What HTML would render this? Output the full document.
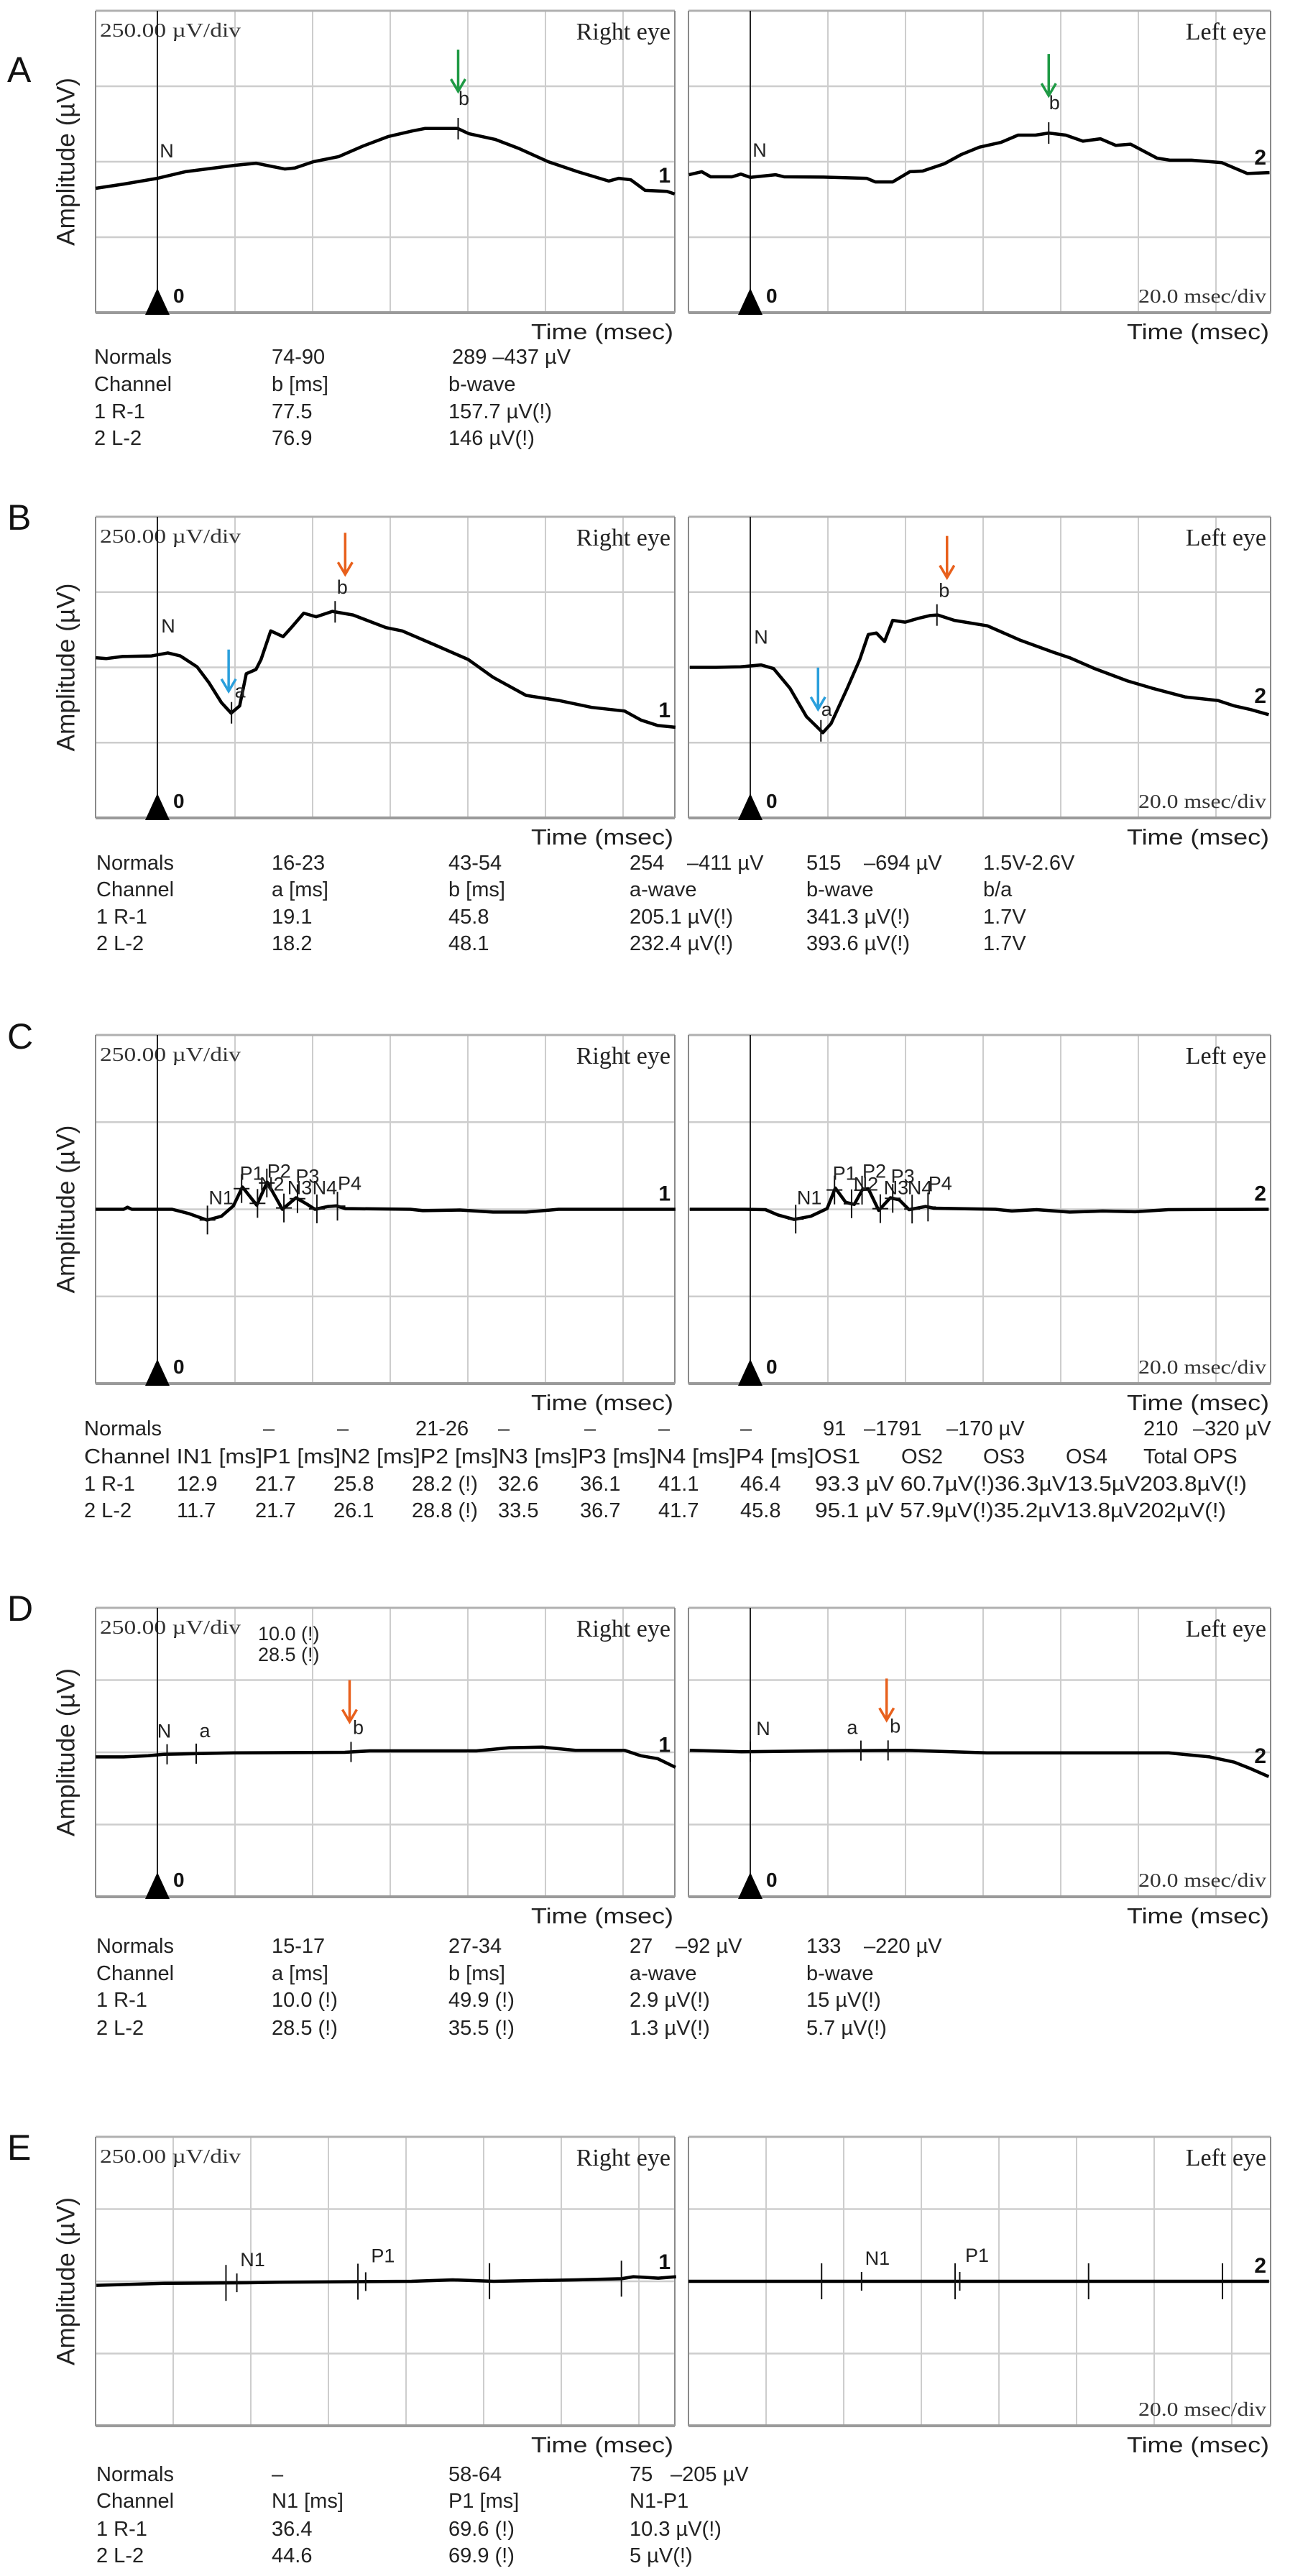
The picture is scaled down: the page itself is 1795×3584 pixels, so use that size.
<!DOCTYPE html>
<html><head><meta charset="utf-8"><title>ERG recordings</title>
<style>
html,body{margin:0;padding:0;background:#fff;}
svg{display:block;}
.tb{font-family:"Liberation Sans",Arial,sans-serif;font-size:29px;fill:#222;}
</style></head>
<body>
<svg id="fig" xmlns="http://www.w3.org/2000/svg" width="1795" height="3584" viewBox="0 0 1795 3584">
<rect x="0" y="0" width="1795" height="3584" fill="#fff"/>
<g id="tables">
<!-- A -->
<g class="tb">
<text x="131" y="506">Normals</text><text x="378" y="506">74-90</text><text x="629" y="506">289  –437 µV</text>
<text x="131" y="544">Channel</text><text x="378" y="544">b [ms]</text><text x="624" y="544">b-wave</text>
<text x="131" y="582">1 R-1</text><text x="378" y="582">77.5</text><text x="624" y="582">157.7 µV(!)</text>
<text x="131" y="619">2 L-2</text><text x="378" y="619">76.9</text><text x="624" y="619">146 µV(!)</text>
</g>
<!-- B -->
<g class="tb">
<text x="134" y="1210">Normals</text><text x="378" y="1210">16-23</text><text x="624" y="1210">43-54</text><text x="876" y="1210">254</text><text x="956" y="1210">–411 µV</text><text x="1122" y="1210">515</text><text x="1202" y="1210">–694 µV</text><text x="1368" y="1210">1.5V-2.6V</text>
<text x="134" y="1247">Channel</text><text x="378" y="1247">a [ms]</text><text x="624" y="1247">b [ms]</text><text x="876" y="1247">a-wave</text><text x="1122" y="1247">b-wave</text><text x="1368" y="1247">b/a</text>
<text x="134" y="1285">1 R-1</text><text x="378" y="1285">19.1</text><text x="624" y="1285">45.8</text><text x="876" y="1285">205.1 µV(!)</text><text x="1122" y="1285">341.3 µV(!)</text><text x="1368" y="1285">1.7V</text>
<text x="134" y="1322">2 L-2</text><text x="378" y="1322">18.2</text><text x="624" y="1322">48.1</text><text x="876" y="1322">232.4 µV(!)</text><text x="1122" y="1322">393.6 µV(!)</text><text x="1368" y="1322">1.7V</text>
</g>
<!-- C -->
<g class="tb">
<text x="117" y="1997">Normals</text><text x="366" y="1997">–</text><text x="469" y="1997">–</text><text x="578" y="1997">21-26</text><text x="693" y="1997">–</text><text x="813" y="1997">–</text><text x="916" y="1997">–</text><text x="1030" y="1997">–</text><text x="1145" y="1997">91</text><text x="1202" y="1997">–1791</text><text x="1317" y="1997">–170 µV</text><text x="1591" y="1997">210</text><text x="1660" y="1997">–320 µV</text>
<text x="117" y="2036" textLength="1080" lengthAdjust="spacingAndGlyphs">Channel IN1 [ms]P1  [ms]N2 [ms]P2  [ms]N3  [ms]P3  [ms]N4  [ms]P4  [ms]OS1</text><text x="1254" y="2036">OS2</text><text x="1368" y="2036">OS3</text><text x="1483" y="2036">OS4</text><text x="1591" y="2036">Total OPS</text>
<text x="117" y="2074">1 R-1</text><text x="246" y="2074">12.9</text><text x="355" y="2074">21.7</text><text x="464" y="2074">25.8</text><text x="573" y="2074">28.2 (!)</text><text x="693" y="2074">32.6</text><text x="807" y="2074">36.1</text><text x="916" y="2074">41.1</text><text x="1030" y="2074">46.4</text><text x="1134" y="2074" textLength="601" lengthAdjust="spacingAndGlyphs">93.3 µV 60.7µV(!)36.3µV13.5µV203.8µV(!)</text>
<text x="117" y="2111">2 L-2</text><text x="246" y="2111">11.7</text><text x="355" y="2111">21.7</text><text x="464" y="2111">26.1</text><text x="573" y="2111">28.8 (!)</text><text x="693" y="2111">33.5</text><text x="807" y="2111">36.7</text><text x="916" y="2111">41.7</text><text x="1030" y="2111">45.8</text><text x="1134" y="2111" textLength="572" lengthAdjust="spacingAndGlyphs">95.1 µV 57.9µV(!)35.2µV13.8µV202µV(!)</text>
</g>
<!-- D -->
<g class="tb">
<text x="134" y="2717">Normals</text><text x="378" y="2717">15-17</text><text x="624" y="2717">27-34</text><text x="876" y="2717">27</text><text x="940" y="2717">–92 µV</text><text x="1122" y="2717">133</text><text x="1202" y="2717">–220 µV</text>
<text x="134" y="2755">Channel</text><text x="378" y="2755">a [ms]</text><text x="624" y="2755">b [ms]</text><text x="876" y="2755">a-wave</text><text x="1122" y="2755">b-wave</text>
<text x="134" y="2792">1 R-1</text><text x="378" y="2792">10.0 (!)</text><text x="624" y="2792">49.9 (!)</text><text x="876" y="2792">2.9 µV(!)</text><text x="1122" y="2792">15 µV(!)</text>
<text x="134" y="2831">2 L-2</text><text x="378" y="2831">28.5 (!)</text><text x="624" y="2831">35.5 (!)</text><text x="876" y="2831">1.3 µV(!)</text><text x="1122" y="2831">5.7 µV(!)</text>
</g>
<!-- E -->
<g class="tb">
<text x="134" y="3452">Normals</text><text x="378" y="3452">–</text><text x="624" y="3452">58-64</text><text x="876" y="3452">75</text><text x="933" y="3452">–205 µV</text>
<text x="134" y="3489">Channel</text><text x="378" y="3489">N1 [ms]</text><text x="624" y="3489">P1 [ms]</text><text x="876" y="3489">N1-P1</text>
<text x="134" y="3528">1 R-1</text><text x="378" y="3528">36.4</text><text x="624" y="3528">69.6 (!)</text><text x="876" y="3528">10.3 µV(!)</text>
<text x="134" y="3565">2 L-2</text><text x="378" y="3565">44.6</text><text x="624" y="3565">69.9 (!)</text><text x="876" y="3565">5 µV(!)</text>
</g>
</g>
</svg>
<script>
// ---------- data (time in ms, amplitude in µV) ----------
const timeTicksTrig=[0,20,40,60,80,100,120];
const timeTicksE=[20,40,60,80,100,120,140];
const ampTicks=[-250,0,250];

const aRightT=[-15.9,-8.7,0,7.2,20,25.4,32.8,35.4,40.2,46.7,53,59.4,65.7,68.9,77.4,80.2,87,93.3,100.7,108.3,116.3,118.9,122,125.7,131.3,133.3];
const aRightV=[-88,-74,-55,-33,-12,-5,-24,-21,0,17,52,83,102,110,110,93,74,43,0,-33,-64,-55,-60,-95,-98,-107];
const aLeftT=[-15.8,-12.5,-10.2,-4.7,-2.4,0,6.5,8.7,18.8,30,32.2,36.7,41.1,44.4,50,54.4,59,64.6,69,73.5,76.9,81.3,85.7,90.2,94.2,98,104.8,108.1,113.7,121.5,128.1,133.8];
const aLeftV=[-43,-33,-50,-50,-41,-52,-43,-50,-51,-55,-67,-67,-33,-31,-7,24,48,64,88,88,95,88,68,76,54,58,12,5,5,-3,-39,-36];
const aRightMarks=[77.5];
const aLeftMarks=[76.9];

const bRightT=[-15.9,-13.2,-9,-1.5,2.7,5.9,10.2,13.3,16.5,19,21.2,22.9,25.4,26.7,29.2,32.4,34.5,37.7,40.9,45.1,50.4,58.9,63.1,71.6,80.1,86.5,95,103.4,111.9,120.4,124.6,128.9,133.5];
const bRightV=[32,29,36,38,48,38,2,-51,-117,-152,-128,-21,-7,26,121,102,132,180,168,186,174,132,121,74,26,-33,-93,-110,-133,-145,-175,-193,-199];
const bLeftT=[-15.6,-8.8,-2.5,2.8,6,10.2,14.5,18.7,20.8,25,28.2,30.4,32.5,34.6,36.7,39.9,43.1,46.3,48.3,52.6,61.1,69.6,78.1,82.3,88.7,97.2,103.5,112,120.5,124.7,128.9,133.6];
const bLeftV=[0,0,2,8,-4,-69,-164,-217,-187,-69,26,109,114,86,156,150,162,172,174,156,138,90,50,32,-4,-45,-69,-98,-110,-128,-140,-157];
const bRightMarks=[19.1,45.8];
const bLeftMarks=[18.2,48.1];

const cRightT=[-15.9,-8.7,-7.7,-6.6,3.8,8,12.8,16.5,19.6,21.9,25.6,28.3,32.2,35.7,38.5,40.6,44,46.1,48.4,65.2,68.4,77.9,86.5,95,103.4,133.5];
const cRightV=[0,0,6,0,0,-12,-31,-20,10,64,12,78,0,33,15,0,8,10,2,0,-4,-2,-8,-8,0,0];
const cLeftT=[-15.6,-1.4,3.9,7.1,11.3,15.6,19.8,21.9,24.6,26.8,28.9,30.4,33.1,36.1,38.4,40.9,45.2,47.3,63.2,67.4,73.8,82.3,90.8,99.2,107.7,133.6];
const cLeftV=[0,0,-1,-16,-29,-20,2,61,20,14,57,59,-3,33,27,-1,8,3,0,-5,-1,-8,-5,-7,-1,0];
const cLabels=['N1','P1','N2','P2','N3','P3','N4','P4'];
const cRightMarks=[12.9,21.7,25.8,28.2,32.6,36.1,41.1,46.4];
const cLeftMarks=[11.7,21.7,26.1,28.8,33.5,36.7,41.7,45.8];

const dRightT=[-15.9,-8.7,-2.4,1.7,19.7,48.3,54.7,82.2,90.7,99.2,107.7,120.4,124.6,128.9,133.5];
const dRightV=[-16,-16,-12,-7,-2,0,5,5,16,18,7,7,-12,-22,-52];
const dLeftT=[-15.6,-2.3,18.7,40,61,82.3,107.8,118.4,124.7,129,133.6];
const dLeftV=[7,2,5,7,-2,-2,-2,-16,-34,-57,-84];
const dRightMarks=[2.5,10.0,49.9];
const dLeftMarks=[0,28.5,35.5];

const eRightT=[0.2,17.8,39,47.5,81.4,92,102.6,123.8,135.5,138.6,145,149.6];
const eRightV=[-14,-7,-5,-3,0,5,0,5,9,16,11,16];
const eLeftT=[0,149.6];
const eLeftV=[0,0];
const eRightMarks=[36.4,69.6];
const eLeftMarks=[44.6,69.9];
const eRightCursors=[33.6,67.6,101.5,135.5];
const eLeftCursors=[34.3,68.7,103.1,137.6];

// ---------- layout ----------
const NS='http://www.w3.org/2000/svg';
const svg=document.getElementById('fig');
function mk(tag,attrs,parent){const e=document.createElementNS(NS,tag);for(const k in attrs)e.setAttribute(k,attrs[k]);(parent||svg).appendChild(e);return e;}
function txt(str,attrs,parent){const e=mk('text',attrs,parent);e.textContent=str;return e;}
const SERIF='"Liberation Serif","Times New Roman",serif';
const SANS='"Liberation Sans",Arial,sans-serif';
const PXMS=5.4;

const eyes={right:{x0:133,w:806,name:'Right eye',num:'1'},left:{x0:958,w:810,name:'Left eye',num:'2'}};
const panels=[
 {id:'a',top:15,h:420,trig:true,lblY:114},
 {id:'b',top:719,h:419,trig:true,lblY:737},
 {id:'c',top:1440,h:485,trig:true,lblY:1459},
 {id:'d',top:2237,h:402,trig:true,lblY:2255},
 {id:'e',top:2973,h:402,trig:false,lblY:3005}
];
function xS(p,eye,ms){return (p.trig?eye.x0+86:eye.x0)+ms*PXMS;}
function yS(p,uv){return p.top+p.h/2-uv/1000*p.h;}
function interp(T,V,t){if(t<=T[0])return V[0];for(let i=1;i<T.length;i++){if(t<=T[i]){const f=(t-T[i-1])/(T[i]-T[i-1]);return V[i-1]+f*(V[i]-V[i-1]);}}return V[V.length-1];}

function arrow(g,x,yTip,color,name){
  const a=mk('g',{},g);
  
  
  mk('line',{x1:x,y1:yTip-58,x2:x,y2:yTip,stroke:color,'stroke-width':3.5},a);
  mk('polyline',{points:(x-10)+','+(yTip-17)+' '+x+','+yTip+' '+(x+10)+','+(yTip-17),fill:'none',stroke:color,'stroke-width':3.5},a);
}

function drawPanel(p,side,T,V){
  const eye=eyes[side];
  const g=mk('g',{});
  
  
  const L=eye.x0,R=eye.x0+eye.w,Tp=p.top,B=p.top+p.h;
  mk('rect',{x:L,y:Tp,width:eye.w,height:p.h,fill:'#fff'},g);
  const ticks=p.trig?timeTicksTrig:timeTicksE;
  ticks.forEach(t=>{const x=xS(p,eye,t);if(x<R-2){const l=mk('line',{x1:x,y1:Tp,x2:x,y2:B,stroke:'#cdcdcd','stroke-width':2},g);
    
    }});
  ampTicks.forEach(a=>{const y=yS(p,a);const l=mk('line',{x1:L,y1:y,x2:R,y2:y,stroke:'#cdcdcd','stroke-width':2.5},g);
    
    });
  // frame
  mk('line',{x1:L,y1:Tp,x2:R,y2:Tp,stroke:'#b0b0b0','stroke-width':3},g);
  mk('line',{x1:L,y1:Tp,x2:L,y2:B,stroke:'#8a8a8a','stroke-width':2},g);
  mk('line',{x1:R,y1:Tp,x2:R,y2:B,stroke:'#8a8a8a','stroke-width':2},g);
  mk('line',{x1:L,y1:B,x2:R,y2:B,stroke:'#9a9a9a','stroke-width':4},g);
  // texts
  if(side==='right'){
    const s=txt('250.00  µV/div',{x:L+6,y:Tp+36,'font-family':SERIF,'font-size':27,fill:'#333','xml:space':'preserve',textLength:196,lengthAdjust:'spacingAndGlyphs'},g);
    
    
  } else {
    const s=txt('20.0 msec/div',{x:R-6,y:B-14,'font-family':SERIF,'font-size':27,fill:'#333','text-anchor':'end',textLength:178,lengthAdjust:'spacingAndGlyphs'},g);
    
    
  }
  const ttl=txt(eye.name,{x:R-6,y:Tp+40,'font-family':SERIF,'font-size':34,fill:'#222','text-anchor':'end'},g);
  
  
  const xt=txt('Time (msec)',{x:R-2,y:B+37,'font-family':SANS,'font-size':31,fill:'#222','text-anchor':'end',textLength:198,lengthAdjust:'spacingAndGlyphs'},g);
  
  
  // trigger
  if(p.trig){
    const tx=xS(p,eye,0);
    const tl=mk('line',{x1:tx,y1:Tp,x2:tx,y2:B,stroke:'#111','stroke-width':1.8},g);
    
    
    const tri=mk('polygon',{points:(tx-17)+','+(B+3)+' '+(tx+17)+','+(B+3)+' '+tx+','+(B-34),fill:'#000'},g);
    
    
    const z=txt('0',{x:tx+22,y:B-14,'font-family':SANS,'font-size':28,'font-weight':'bold',fill:'#111'},g);
    
    
  }
  // trace
  let d='';
  for(let i=0;i<T.length;i++){d+=(i?'L':'M')+xS(p,eye,T[i]).toFixed(1)+','+yS(p,V[i]).toFixed(1);}
  const path=mk('path',{d:d,fill:'none',stroke:'#000','stroke-width':4.5,'stroke-linejoin':'round'},g);
  
  
  const endT=(R-18-(p.trig?eye.x0+86:eye.x0))/PXMS;
  const num=txt(eye.num,{x:R-6,y:yS(p,interp(T,V,endT))-12,'font-family':SANS,'font-size':30,'font-weight':'bold',fill:'#111','text-anchor':'end'},g);
  
  
  return g;
}

function tick(g,x,y,half,cross){
  const t=mk('line',{x1:x,y1:y-half,x2:x,y2:y+half,stroke:'#111','stroke-width':2},g);
  
  
  if(cross){mk('line',{x1:x-11,y1:y,x2:x+11,y2:y,stroke:'#111','stroke-width':2},g);}
}
function lab(g,s,x,y,name){
  const t=txt(s,{x:x,y:y,'font-family':SANS,'font-size':27,fill:'#222','text-anchor':'middle','dominant-baseline':'central'},g);
  
  
}

const traces={
 a:{right:[aRightT,aRightV],left:[aLeftT,aLeftV]},
 b:{right:[bRightT,bRightV],left:[bLeftT,bLeftV]},
 c:{right:[cRightT,cRightV],left:[cLeftT,cLeftV]},
 d:{right:[dRightT,dRightV],left:[dLeftT,dLeftV]},
 e:{right:[eRightT,eRightV],left:[eLeftT,eLeftV]}
};
const GREEN='#1f9a45',ORANGE='#e8601c',BLUE='#2a9fdc';
const cDx=[19,14,20,17,22,14,11,17];
const cDy=[-16,-50,-35,-53,-30,-46,-30,-36];

panels.forEach(p=>{
  const letter=txt(p.id.toUpperCase(),{x:10,y:p.lblY,'font-family':SANS,'font-size':50,fill:'#111'});
  
  
  const cy=p.top+p.h/2;
  const yl=txt('Amplitude (µV)',{x:92,y:cy,'font-family':SANS,'font-size':35,fill:'#222','text-anchor':'middle','dominant-baseline':'central',transform:'rotate(-90 92 '+cy+')',textLength:234,lengthAdjust:'spacingAndGlyphs'});
  
  
  ['right','left'].forEach(side=>{
    const T=traces[p.id][side][0],V=traces[p.id][side][1];
    const g=drawPanel(p,side,T,V);
    const eye=eyes[side];
    const X=t=>xS(p,eye,t), Y=t=>yS(p,interp(T,V,t));
    if(p.id==='a'){
      const m=(side==='right'?aRightMarks:aLeftMarks)[0];
      tick(g,X(m),Y(m),15,false);
      lab(g,'b',X(m)+8,Y(m)-42,'b-wave-label');
      lab(g,'N',X(0)+13,Y(0)-38,'n-label');
      arrow(g,X(m),Y(m)-52,GREEN,'b-wave-arrow');
    }
    if(p.id==='b'){
      const ms=side==='right'?bRightMarks:bLeftMarks;
      tick(g,X(ms[0]),Y(ms[0]),15,false);
      tick(g,X(ms[1]),Y(ms[1]),15,false);
      lab(g,'a',X(ms[0])+(side==='right'?12:8),Y(ms[0])-30,'a-wave-label');
      lab(g,'b',X(ms[1])+10,Y(ms[1])-34,'b-wave-label');
      lab(g,'N',X(0)+15,Y(0)-40,'n-label');
      arrow(g,X(ms[0])-4,Y(ms[0])-30,BLUE,'a-wave-arrow');
      arrow(g,X(ms[1])+14,Y(ms[1])-52,ORANGE,'b-wave-arrow');
    }
    if(p.id==='c'){
      const ms=side==='right'?cRightMarks:cLeftMarks;
      ms.forEach((m,i)=>{tick(g,X(m),Y(m),20,true);lab(g,cLabels[i],X(m)+cDx[i],cy+cDy[i],'op-label-'+cLabels[i].toLowerCase());});
    }
    if(p.id==='d'){
      const ms=side==='right'?dRightMarks:dLeftMarks;
      ms.forEach(m=>tick(g,X(m),Y(m),14,false));
      lab(g,'N',X(ms[0])+(side==='right'?-4:18),Y(ms[0])-32,'n-label');
      lab(g,'a',X(ms[1])+(side==='right'?12:-12),Y(ms[1])-32,'a-wave-label');
      lab(g,'b',X(ms[2])+10,Y(ms[2])-34,'b-wave-label');
      arrow(g,X(ms[2])-2,Y(ms[2])-42,ORANGE,'b-wave-arrow');
      if(side==='right'){
        const w1=txt('10.0 (!)',{x:359,y:p.top+45,'font-family':SANS,'font-size':27,fill:'#222'},g);
        
        
        const w2=txt('28.5 (!)',{x:359,y:p.top+74,'font-family':SANS,'font-size':27,fill:'#222'},g);
        
        
      }
    }
    if(p.id==='e'){
      const ms=side==='right'?eRightMarks:eLeftMarks;
      const cs=side==='right'?eRightCursors:eLeftCursors;
      cs.forEach(c=>tick(g,X(c),Y(c),25,false));
      ms.forEach(m=>tick(g,X(m),Y(m),13,false));
      lab(g,'N1',X(ms[0])+22,Y(ms[0])-32,'n1-label');
      lab(g,'P1',X(ms[1])+24,Y(ms[1])-36,'p1-label');
    }
  });
});
svg.appendChild(document.getElementById('tables'));
</script>
</body></html>
